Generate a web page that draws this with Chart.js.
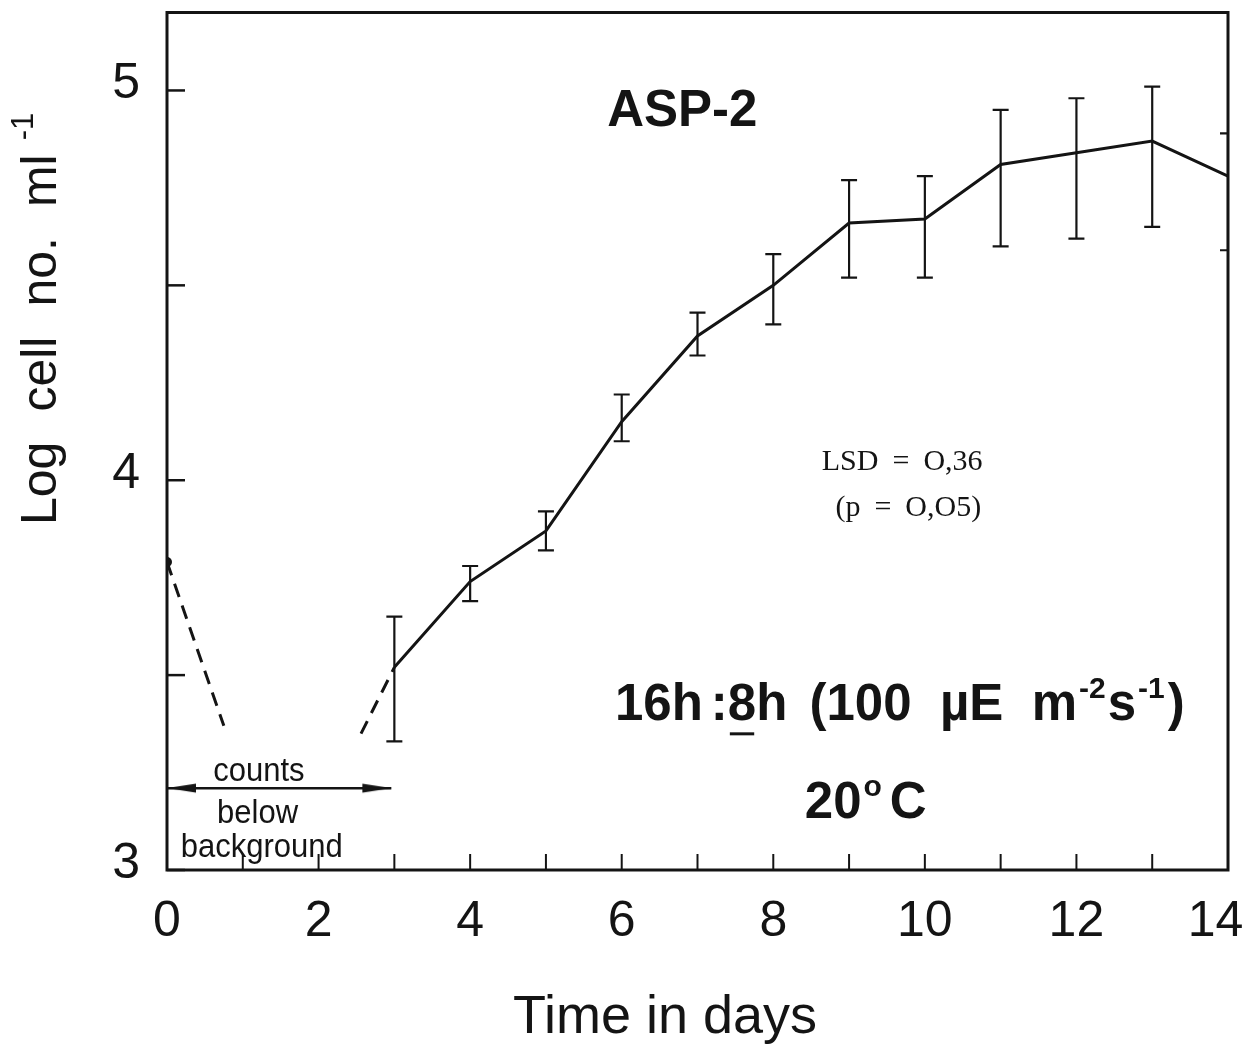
<!DOCTYPE html>
<html>
<head>
<meta charset="utf-8">
<script src="https://cdn.jsdelivr.net/npm/chart.js@4.4.1/dist/chart.umd.min.js"></script>
<style>
  html, body { margin: 0; padding: 0; background: #fff; }
  #wrap { width: 1248px; height: 1050px; }
</style>
</head>
<body>
<div id="wrap"><canvas id="growth-chart" width="1248" height="1050"></canvas></div>
<script>
// ASP-2, log cell no. per ml against time (16h:8h light, 20 C)
const days = [3, 4, 5, 6, 7, 8, 9, 10, 11, 12, 13, 14];
const logCells = [3.52, 3.74, 3.87, 4.15, 4.37, 4.50, 4.66, 4.67, 4.81, 4.84, 4.87, 4.78];
const errUpper = [3.65, 3.78, 3.92, 4.22, 4.43, 4.58, 4.77, 4.78, 4.95, 4.98, 5.01, 4.89];
const errLower = [3.33, 3.69, 3.82, 4.10, 4.32, 4.40, 4.52, 4.52, 4.60, 4.62, 4.65, 4.59];

// dashed parts: drop after inoculation, and the line back from day 3
const dropDays = [0, 0.75];
const dropLog = [3.79, 3.37];
const leadDays = [2.56, 3];
const leadLog = [3.35, 3.52];

// "counts below background" range
const belowDays = [0, 2.96];
const belowLevel = [3.21, 3.21];

// axes
const xTickValues = [0, 1, 2, 3, 4, 5, 6, 7, 8, 9, 10, 11, 12, 13, 14];
const xLabelValues = [0, 2, 4, 6, 8, 10, 12, 14];
const yTickValues = [3, 3.5, 4, 4.5, 5];
const yLabelValues = [3, 4, 5];

const INK = '#141414';
const SANS = '"Liberation Sans", Arial, sans-serif';
const SERIF = '"Liberation Serif", "Times New Roman", serif';

Chart.defaults.font.family = SANS;
Chart.defaults.color = INK;

function pts(xs, ys) {
  return xs.map((x, i) => ({ x: x, y: ys[i] }));
}

// long thin arrowhead, tip at the centre of the canvas, pointing right
function arrowHead() {
  const c = document.createElement('canvas');
  c.width = 64; c.height = 14;
  const g = c.getContext('2d');
  g.fillStyle = INK;
  g.beginPath();
  g.moveTo(32, 7);
  g.lineTo(3, 2.5);
  g.lineTo(3, 11.5);
  g.closePath();
  g.fill();
  return c;
}
const head = arrowHead();

// text runs: [{t, font, dy, gap, under}]
function drawRuns(ctx, runs, x, base, align) {
  let total = 0;
  runs.forEach(r => {
    ctx.font = r.font;
    r.w = ctx.measureText(r.t).width + (r.gap || 0);
    total += r.w;
  });
  let cx = align === 'center' ? x - total / 2 : x;
  ctx.textAlign = 'left';
  ctx.textBaseline = 'alphabetic';
  runs.forEach(r => {
    ctx.font = r.font;
    ctx.fillText(r.t, cx, base + (r.dy || 0));
    if (r.under) {
      const tw = ctx.measureText(r.t).width;
      ctx.fillRect(cx + 2, base + 12, tw - 4, 3);
    }
    cx += r.w;
  });
}

const B50 = 'bold 51px ' + SANS;
const B30 = 'bold 30px ' + SANS;
const LSD_FONT = '30px ' + SERIF;

// notes placed in data units (day, log value)
const notes = [
  { at: [6.80, 4.908], align: 'center', runs: [{ t: 'ASP-2', font: B50 }] },
  { at: [9.67, 3.384], align: 'center', runs: [
    { t: '16h', font: B50, gap: 8 },
    { t: ':', font: B50 },
    { t: '8', font: B50, under: true },
    { t: 'h', font: B50, gap: 8 },
    { t: ' (100  \u00b5E  m', font: B50, gap: 2 },
    { t: '-2', font: B30, dy: -22, gap: 2 },
    { t: 's', font: B50, gap: 2 },
    { t: '-1', font: B30, dy: -22, gap: 3 },
    { t: ')', font: B50 }
  ] },
  { at: [9.22, 3.133], align: 'center', runs: [
    { t: '20', font: B50, gap: 2 },
    { t: 'o', font: B30, dy: -22, gap: 8 },
    { t: 'C', font: B50 }
  ] },
  { at: [8.64, 4.027], align: 'left', runs: [
    { t: 'LSD', font: LSD_FONT, gap: 14 },
    { t: '=', font: LSD_FONT, gap: 14 },
    { t: 'O,36', font: LSD_FONT }
  ] },
  { at: [8.82, 3.907], align: 'left', runs: [
    { t: '(p', font: LSD_FONT, gap: 14 },
    { t: '=', font: LSD_FONT, gap: 14 },
    { t: 'O,O5)', font: LSD_FONT }
  ] }
];

// hand-lettered label under the arrow, narrow
const handNotes = [
  { at: [0.61, 3.228], t: 'counts' },
  { at: [0.66, 3.120], t: 'below' },
  { at: [0.18, 3.033], t: 'background' }
];

const frameAndBars = {
  id: 'frameAndBars',
  afterDatasetsDraw(chart) {
    const { ctx, chartArea: a, scales: { x, y } } = chart;
    ctx.save();
    ctx.strokeStyle = INK;

    // error bars, clipped to the plot box
    ctx.save();
    ctx.beginPath();
    ctx.rect(a.left, a.top, a.right - a.left, a.bottom - a.top);
    ctx.clip();
    ctx.lineWidth = 2.2;
    days.forEach((d, i) => {
      const px = x.getPixelForValue(d);
      const top = y.getPixelForValue(errUpper[i]);
      const bot = y.getPixelForValue(errLower[i]);
      ctx.beginPath();
      ctx.moveTo(px, top); ctx.lineTo(px, bot);
      ctx.moveTo(px - 8, top); ctx.lineTo(px + 8, top);
      ctx.moveTo(px - 8, bot); ctx.lineTo(px + 8, bot);
      ctx.stroke();
    });
    ctx.restore();

    // frame
    ctx.lineWidth = 3;
    ctx.strokeRect(a.left, a.top, a.right - a.left, a.bottom - a.top);

    // inward ticks
    ctx.lineWidth = 2.5;
    y.ticks.forEach(t => {
      const py = y.getPixelForValue(t.value);
      ctx.beginPath();
      ctx.moveTo(a.left, py); ctx.lineTo(a.left + 18, py);
      ctx.stroke();
    });
    ctx.lineWidth = 2;
    x.ticks.forEach(t => {
      const px = x.getPixelForValue(t.value);
      ctx.beginPath();
      ctx.moveTo(px, a.bottom); ctx.lineTo(px, a.bottom - 16);
      ctx.stroke();
    });
    ctx.restore();
  },
  afterDraw(chart) {
    const { ctx, scales: { x, y } } = chart;
    ctx.save();
    ctx.fillStyle = INK;

    notes.forEach(n => {
      drawRuns(ctx, n.runs, x.getPixelForValue(n.at[0]), y.getPixelForValue(n.at[1]), n.align);
    });

    ctx.font = '33px ' + SANS;
    ctx.textAlign = 'left';
    ctx.textBaseline = 'alphabetic';
    handNotes.forEach(n => {
      ctx.save();
      ctx.translate(x.getPixelForValue(n.at[0]), y.getPixelForValue(n.at[1]));
      ctx.scale(0.94, 1);
      ctx.fillText(n.t, 0, 0);
      ctx.restore();
    });

    // y axis title, rotated
    const T = '50px ' + SANS;
    ctx.save();
    ctx.translate(56, 525);
    ctx.rotate(-Math.PI / 2);
    drawRuns(ctx, [
      { t: 'Log', font: T, gap: 30 },
      { t: 'cell', font: T, gap: 30 },
      { t: 'no.', font: T, gap: 30 },
      { t: 'ml', font: T, gap: 14 },
      { t: '-1', font: '31px ' + SANS, dy: -23 }
    ], 0, 0, 'left');
    ctx.restore();

    // x axis title
    ctx.font = '54px ' + SANS;
    ctx.textAlign = 'center';
    ctx.fillText('Time in days', 665, 1033);
    ctx.restore();
  }
};

new Chart(document.getElementById('growth-chart').getContext('2d'), {
  type: 'line',
  data: {
    datasets: [
      {
        label: 'ASP-2',
        data: pts(days, logCells),
        borderColor: INK,
        borderWidth: 3,
        pointRadius: 0,
        tension: 0
      },
      {
        label: 'drop',
        data: pts(dropDays, dropLog),
        borderColor: INK,
        borderWidth: 3,
        borderDash: [14, 9],
        pointRadius: [5, 0],
        pointBackgroundColor: INK,
        pointBorderWidth: 0
      },
      {
        label: 'lead-in',
        data: pts(leadDays, leadLog),
        borderColor: INK,
        borderWidth: 3,
        borderDash: [14, 9],
        pointRadius: 0
      },
      {
        label: 'below background',
        data: pts(belowDays, belowLevel),
        borderColor: INK,
        borderWidth: 2.5,
        pointStyle: head,
        pointRotation: [180, 0],
        pointRadius: 10
      }
    ]
  },
  options: {
    responsive: false,
    animation: false,
    events: [],
    layout: { padding: { top: 11, right: 20, left: 0, bottom: 0 } },
    plugins: { legend: { display: false }, tooltip: { enabled: false } },
    scales: {
      x: {
        type: 'linear',
        min: 0,
        max: 14,
        afterBuildTicks: s => { s.ticks = xTickValues.map(v => ({ value: v })); },
        afterFit: s => { s.height = 180; s.paddingLeft = 0; s.paddingRight = 0; },
        grid: { display: false, drawTicks: false },
        border: { display: false },
        ticks: {
          padding: 22,
          autoSkip: false,
          maxRotation: 0,
          font: { size: 50 },
          color: INK,
          // the last label sits left of its tick, inside the page
          callback: v => v === 14 ? '14\u2002' : (xLabelValues.includes(v) ? String(v) : '')
        }
      },
      y: {
        type: 'linear',
        min: 3,
        max: 5.2,
        afterBuildTicks: s => { s.ticks = yTickValues.map(v => ({ value: v })); },
        afterFit: s => { s.width = 167; s.paddingTop = 0; s.paddingBottom = 0; },
        grid: { display: false, drawTicks: false },
        border: { display: false },
        ticks: {
          padding: 27,
          labelOffset: -6,
          font: { size: 50 },
          color: INK,
          callback: v => yLabelValues.includes(v) ? String(v) : ''
        }
      }
    }
  },
  plugins: [frameAndBars]
});
</script>
</body>
</html>
